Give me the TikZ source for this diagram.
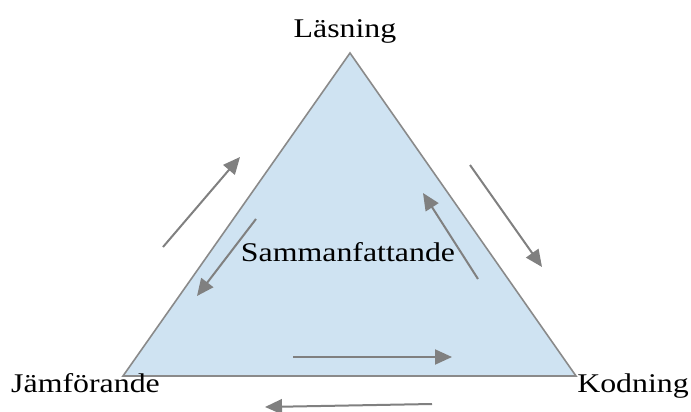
\documentclass[tikz,border=0pt]{standalone}
\usepackage{fontspec}
\setmainfont{Liberation Serif}
\usetikzlibrary{arrows.meta}
\definecolor{triFill}{HTML}{CFE3F2}
\definecolor{triLine}{HTML}{8A8A8A}
\definecolor{arrGray}{HTML}{808080}
\begin{document}
\begin{tikzpicture}[x=1pt,y=-1pt,
  lbl/.style={inner sep=0pt,font=\fontsize{27}{31}\selectfont,xscale=1.18,anchor=base},
  flow/.style={draw=arrGray,line width=2pt,-{Triangle[length=17pt,width=15pt]}}]
\useasboundingbox (0,0) rectangle (691,412);
\coordinate (top) at (350,53);
\coordinate (bl) at (123,376);
\coordinate (br) at (576,376);
\filldraw[fill=triFill,draw=triLine,line width=1.6pt,line join=miter] (top) -- (br) -- (bl) -- cycle;
\node[lbl] (las) at (345,38) {Läsning};
\node[lbl,anchor=base west] (jam) at (11,392) {Jämförande};
\node[lbl,anchor=base east] (kod) at (689,392) {Kodning};
\node[lbl] (sam) at (348,261) {Sammanfattande};
\coordinate (a1s) at (163,247); \coordinate (a1e) at (240,157);
\coordinate (a2s) at (256,219); \coordinate (a2e) at (197,296);
\coordinate (a3s) at (470,165); \coordinate (a3e) at (542,267);
\coordinate (a4s) at (478,279); \coordinate (a4e) at (423,193);
\coordinate (a5s) at (293,357); \coordinate (a5e) at (452,357);
\coordinate (a6s) at (432,404); \coordinate (a6e) at (265,407);
\draw[flow] (a1s) -- (a1e);
\draw[flow] (a2s) -- (a2e);
\draw[flow] (a3s) -- (a3e);
\draw[flow] (a4s) -- (a4e);
\draw[flow] (a5s) -- (a5e);
\draw[flow] (a6s) -- (a6e);
\end{tikzpicture}
\end{document}
